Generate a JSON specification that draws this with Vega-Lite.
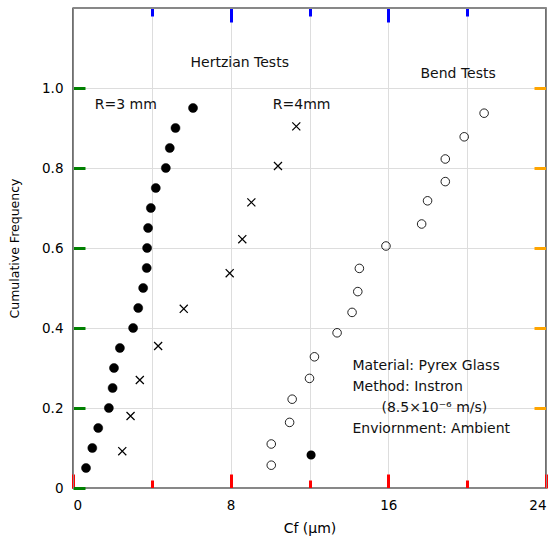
{
  "$schema": "https://vega.github.io/schema/vega-lite/v6.json",
  "width": 473,
  "height": 480,
  "autosize": {"type": "none"},
  "padding": {"left": 73, "top": 8, "right": 8, "bottom": 54},
  "background": "white",
  "config": {
    "view": {"stroke": "#111", "strokeWidth": 1.4},
    "font": "DejaVu Sans"
  },
  "datasets": {
    "pts": [
      {"series": "R=3 mm", "cf": 0.66, "freq": 0.05},
      {"series": "R=3 mm", "cf": 0.98, "freq": 0.10},
      {"series": "R=3 mm", "cf": 1.28, "freq": 0.15},
      {"series": "R=3 mm", "cf": 1.82, "freq": 0.20},
      {"series": "R=3 mm", "cf": 2.01, "freq": 0.25},
      {"series": "R=3 mm", "cf": 2.08, "freq": 0.30},
      {"series": "R=3 mm", "cf": 2.38, "freq": 0.35},
      {"series": "R=3 mm", "cf": 3.05, "freq": 0.40},
      {"series": "R=3 mm", "cf": 3.31, "freq": 0.45},
      {"series": "R=3 mm", "cf": 3.56, "freq": 0.50},
      {"series": "R=3 mm", "cf": 3.74, "freq": 0.55},
      {"series": "R=3 mm", "cf": 3.76, "freq": 0.60},
      {"series": "R=3 mm", "cf": 3.81, "freq": 0.65},
      {"series": "R=3 mm", "cf": 3.95, "freq": 0.70},
      {"series": "R=3 mm", "cf": 4.20, "freq": 0.75},
      {"series": "R=3 mm", "cf": 4.71, "freq": 0.80},
      {"series": "R=3 mm", "cf": 4.91, "freq": 0.85},
      {"series": "R=3 mm", "cf": 5.20, "freq": 0.90},
      {"series": "R=3 mm", "cf": 6.09, "freq": 0.95},
      {"series": "R=4 mm", "cf": 2.50, "freq": 0.092},
      {"series": "R=4 mm", "cf": 2.92, "freq": 0.18},
      {"series": "R=4 mm", "cf": 3.39, "freq": 0.27},
      {"series": "R=4 mm", "cf": 4.32, "freq": 0.355},
      {"series": "R=4 mm", "cf": 5.62, "freq": 0.448},
      {"series": "R=4 mm", "cf": 7.95, "freq": 0.537},
      {"series": "R=4 mm", "cf": 8.59, "freq": 0.622},
      {"series": "R=4 mm", "cf": 9.05, "freq": 0.714},
      {"series": "R=4 mm", "cf": 10.40, "freq": 0.805},
      {"series": "R=4 mm", "cf": 11.33, "freq": 0.904},
      {"series": "Bend", "cf": 10.06, "freq": 0.057},
      {"series": "Bend", "cf": 10.06, "freq": 0.11},
      {"series": "Bend", "cf": 10.99, "freq": 0.164},
      {"series": "Bend", "cf": 11.12, "freq": 0.222},
      {"series": "Bend", "cf": 12.00, "freq": 0.274},
      {"series": "Bend", "cf": 12.25, "freq": 0.328},
      {"series": "Bend", "cf": 13.40, "freq": 0.388},
      {"series": "Bend", "cf": 14.16, "freq": 0.439},
      {"series": "Bend", "cf": 14.45, "freq": 0.491},
      {"series": "Bend", "cf": 14.53, "freq": 0.549},
      {"series": "Bend", "cf": 15.88, "freq": 0.605},
      {"series": "Bend", "cf": 17.69, "freq": 0.66},
      {"series": "Bend", "cf": 17.99, "freq": 0.718},
      {"series": "Bend", "cf": 18.89, "freq": 0.766},
      {"series": "Bend", "cf": 18.89, "freq": 0.8225},
      {"series": "Bend", "cf": 19.85, "freq": 0.878},
      {"series": "Bend", "cf": 20.86, "freq": 0.937},
      {"series": "Outlier", "cf": 12.08, "freq": 0.0825}
    ],
    "centered": [
      {"label": "Hertzian  Tests", "cf": 8.46, "freq": 1.062},
      {"label": "R=3 mm", "cf": 2.68, "freq": 0.957},
      {"label": "R=4mm", "cf": 11.6, "freq": 0.957},
      {"label": "Bend  Tests", "cf": 19.54, "freq": 1.035}
    ],
    "notes": [
      {"label": "Material: Pyrex Glass", "cf": 14.18, "freq": 0.305},
      {"label": "Method: Instron", "cf": 14.18, "freq": 0.2525},
      {"label": "(8.5×10⁻⁶ m/s)", "cf": 15.65, "freq": 0.2},
      {"label": "Enviornment: Ambient", "cf": 14.18, "freq": 0.1475}
    ]
  },
  "resolve": {"axis": {"x": "independent", "y": "independent"}},
  "layer": [
    {
      "data": {"name": "pts"},
      "mark": {"type": "point", "filled": true, "stroke": "#000", "opacity": 1},
      "encoding": {
        "x": {"field": "cf", "type": "quantitative", "scale": {"domain": [0, 24], "nice": false, "zero": false},
          "axis": {"orient": "bottom", "values": [0, 4, 8, 12, 16, 20, 24],
            "tickSize": {"condition": {"test": "datum.value % 8 === 0", "value": -14}, "value": -8},
            "tickColor": "red", "tickWidth": 3,
            "labelExpr": "datum.value % 8 === 0 ? datum.label : ''",
            "labelFontSize": 13.5, "labelPadding": 24,
            "title": "Cf (μm)", "titleFontWeight": "normal", "titleFontSize": 14, "titlePadding": 10}},
        "y": {"field": "freq", "type": "quantitative", "scale": {"domain": [0, 1.2], "nice": false, "zero": false},
          "axis": {"orient": "left", "values": [0, 0.2, 0.4, 0.6, 0.8, 1.0], "tickSize": -12, "tickColor": "green", "tickWidth": 3,
            "labelExpr": "datum.value === 0 ? '0' : format(datum.value, '.1f')",
            "labelFontSize": 13.5, "labelPadding": 22,
            "title": "Cumulative Frequency", "titleFontWeight": "normal", "titleFontSize": 12.5, "titlePadding": 20}},
        "shape": {"field": "series", "type": "nominal", "legend": null,
          "scale": {"domain": ["R=3 mm", "Bend", "R=4 mm", "Outlier"], "range": ["circle", "circle", "M-1,-1L1,1M-1,1L1,-1", "circle"]}},
        "fill": {"field": "series", "type": "nominal", "legend": null,
          "scale": {"domain": ["R=3 mm", "Bend", "R=4 mm", "Outlier"], "range": ["#000", "transparent", "transparent", "#000"]}},
        "size": {"field": "series", "type": "nominal", "legend": null,
          "scale": {"domain": ["R=3 mm", "Bend", "R=4 mm", "Outlier"], "range": [82, 56, 48, 26]}},
        "strokeWidth": {"field": "series", "type": "nominal", "legend": null,
          "scale": {"domain": ["R=3 mm", "Bend", "R=4 mm", "Outlier"], "range": [0.5, 1.6, 2, 0.5]}}
      }
    },
    {
      "data": {"name": "centered"},
      "mark": {"type": "text", "align": "center", "baseline": "middle", "fontSize": 14, "color": "#111", "font": "DejaVu Sans"},
      "encoding": {
        "x": {"field": "cf", "type": "quantitative",
          "axis": {"orient": "top", "values": [4, 8, 12, 16, 20],
            "tickSize": {"condition": {"test": "datum.value % 8 === 0", "value": -14}, "value": -8},
            "tickColor": "blue", "tickWidth": 3, "labels": false, "title": null}},
        "y": {"field": "freq", "type": "quantitative",
          "axis": {"orient": "right", "values": [0.2, 0.4, 0.6, 0.8, 1.0], "tickSize": -12, "tickColor": "orange", "tickWidth": 3, "labels": false, "title": null}},
        "text": {"field": "label"}
      }
    },
    {
      "data": {"name": "notes"},
      "mark": {"type": "text", "align": "left", "baseline": "middle", "fontSize": 14, "color": "#111", "font": "DejaVu Sans"},
      "encoding": {
        "x": {"field": "cf", "type": "quantitative", "axis": null},
        "y": {"field": "freq", "type": "quantitative", "axis": null},
        "text": {"field": "label"}
      }
    }
  ]
}
